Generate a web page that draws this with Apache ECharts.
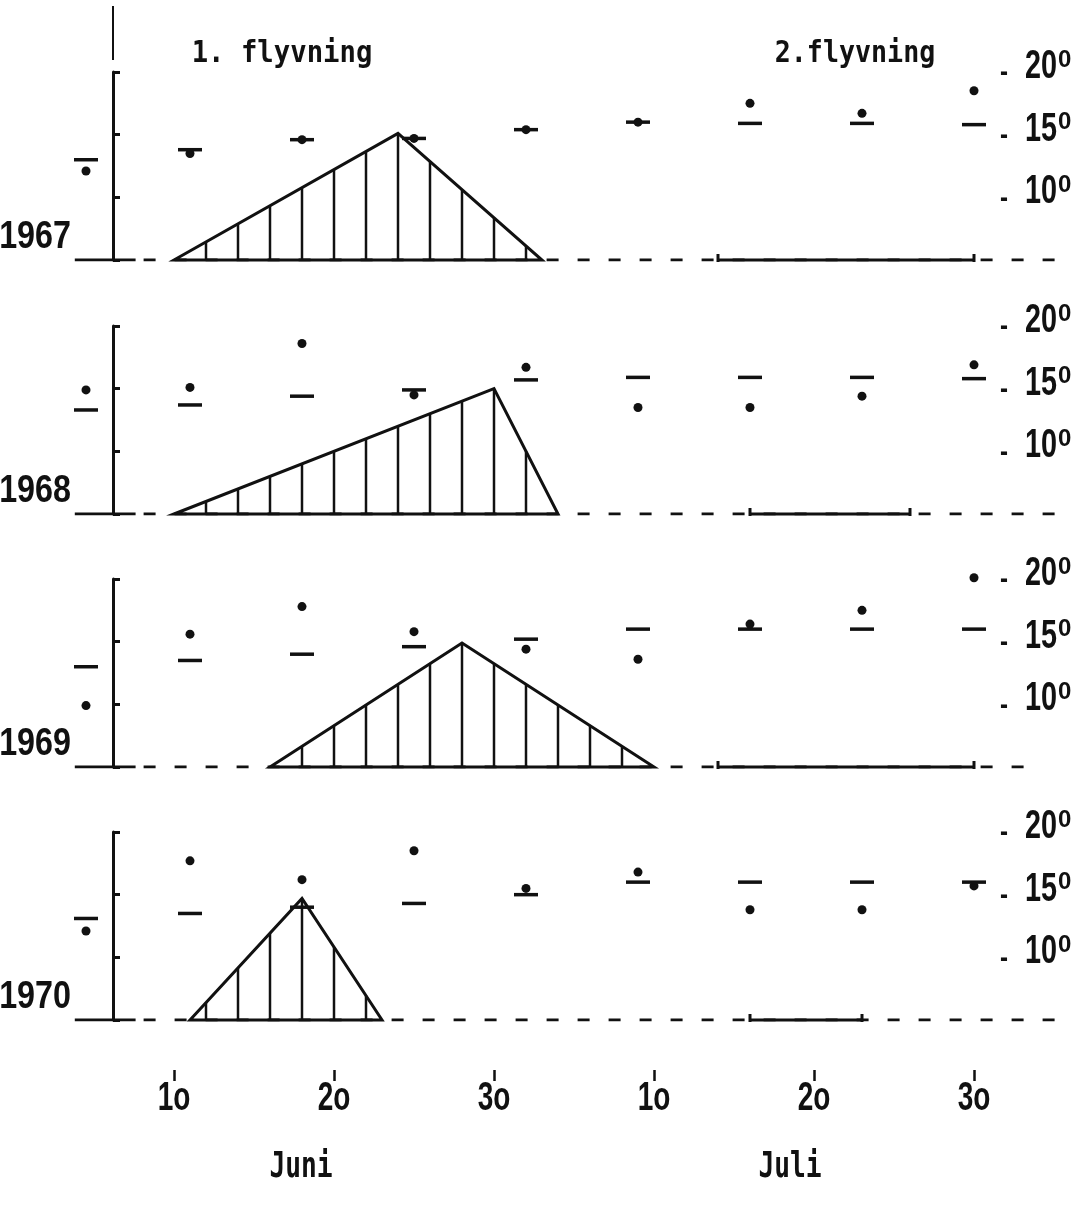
<!DOCTYPE html>
<html>
<head>
<meta charset="utf-8">
<script src="https://cdn.jsdelivr.net/npm/echarts@6/dist/echarts.min.js"></script>
<style>
  html, body { margin: 0; padding: 0; background: #fff; }
  #chart { width: 1088px; height: 1213px; }
</style>
</head>
<body>
<div id="chart"></div>
<script>
const MONO = "'DejaVu Sans Mono', 'Liberation Mono', monospace";
const SANS = "'Liberation Sans', Arial, sans-serif";
const INK = '#111';

const years = ['1967', '1968', '1969', '1970'];
const weekDays = [4.5, 11, 18, 25, 32, 39, 46, 53, 60];

// normal temperature (short dashes)
const normal1967 = [13.0, 13.8, 14.6, 14.7, 15.4, 16.0, 15.9, 15.9, 15.8];
const normal1968 = [13.3, 13.7, 14.4, 14.9, 15.7, 15.9, 15.9, 15.9, 15.8];
const normal1969 = [13.0, 13.5, 14.0, 14.6, 15.2, 16.0, 16.0, 16.0, 16.0];
const normal1970 = [13.1, 13.5, 14.0, 14.3, 15.0, 16.0, 16.0, 16.0, 16.0];

// temperature of the year (dots)
const temp1967 = [12.1, 13.5, 14.6, 14.7, 15.4, 16.0, 17.5, 16.7, 18.5];
const temp1968 = [14.9, 15.1, 18.6, 14.5, 16.7, 13.5, 13.5, 14.4, 16.9];
const temp1969 = [9.9, 15.6, 17.8, 15.8, 14.4, 13.6, 16.4, 17.5, 20.1];
const temp1970 = [12.1, 17.7, 16.2, 18.5, 15.5, 16.8, 13.8, 13.8, 15.7];

// 1. flyvning : first day, top day, last day, height of top
const flight1Start = [10, 10, 16, 11];
const flight1Peak = [24, 30, 28, 18];
const flight1End = [33, 34, 40, 23];
const flight1Top = [15.1, 15.0, 14.9, 14.7];

// 2. flyvning : period
const flight2Start = [44, 46, 44, 46];
const flight2End = [60, 56, 60, 53];

const dayTicks = [10, 20, 30, 40, 50, 60];
const dayLabels = ['1o', '2o', '3o', '1o', '2o', '3o'];
const tempTicks = [10, 15, 20];

const normals = [normal1967, normal1968, normal1969, normal1970];
const temps = [temp1967, temp1968, temp1969, temp1970];

// layout
const GRID_TOPS = [72, 326, 579, 832];
const GRID_H = 188;
const X_MIN = 2, X_MAX = 66;
const BASE = 5;
const dashEnds = [65.3, 65.4, 64.2, 65.4];

let chart = echarts.init(document.getElementById('chart'), null, {renderer: 'canvas'});

function renderFlight(params, api) {
  const s = api.value(0), p = api.value(1), e = api.value(2), h = api.value(3);
  const a = api.coord([s, BASE]), b = api.coord([p, h]), c = api.coord([e, BASE]);
  const children = [{
    type: 'polygon',
    shape: {points: [a, b, c]},
    style: {fill: 'rgba(0,0,0,0)', stroke: INK, lineWidth: 3, lineJoin: 'miter'}
  }];
  // vertical hatching every second day
  for (let d = Math.floor(s / 2) * 2 + 2; d < e; d += 2) {
    const v = d <= p ? BASE + (h - BASE) * (d - s) / (p - s) : BASE + (h - BASE) * (e - d) / (e - p);
    const lo = api.coord([d, BASE]), hi = api.coord([d, v]);
    children.push({
      type: 'line',
      shape: {x1: lo[0], y1: lo[1], x2: hi[0], y2: hi[1]},
      style: {stroke: INK, lineWidth: 2.5}
    });
  }
  return {type: 'group', children};
}

function renderPeriod(params, api) {
  const a = api.coord([api.value(0), BASE]), b = api.coord([api.value(1), BASE]);
  return {
    type: 'group',
    children: [
      {type: 'line', shape: {x1: a[0], y1: a[1], x2: b[0], y2: b[1]}, style: {stroke: INK, lineWidth: 3}},
      {type: 'line', shape: {x1: a[0], y1: a[1] - 6, x2: a[0], y2: a[1] + 2}, style: {stroke: INK, lineWidth: 3}},
      {type: 'line', shape: {x1: b[0], y1: b[1] - 6, x2: b[0], y2: b[1] + 2}, style: {stroke: INK, lineWidth: 3}}
    ]
  };
}

function label(text, x, y, font, sx, align) {
  return {
    type: 'text', x: x, y: y, scaleX: sx,
    style: {
      text: text, fill: INK, font: font,
      textAlign: align, align: align,
      textVerticalAlign: 'middle', verticalAlign: 'middle'
    }
  };
}

const grids = [], xAxes = [], yAxes = [], series = [];

years.forEach((year, i) => {
  grids.push({left: 46, right: 18, top: GRID_TOPS[i], height: GRID_H, outerBoundsMode: 'none', containLabel: false});
  const last = i === years.length - 1;
  xAxes.push({
    type: 'value', gridIndex: i, min: X_MIN, max: X_MAX,
    position: 'bottom', offset: last ? 50 : 0,
    axisLine: {show: false},
    splitLine: {show: false},
    axisTick: {show: last, customValues: dayTicks, length: 11, lineStyle: {color: INK, width: 2.5}},
    axisLabel: {show: false}
  });
  yAxes.push({
    type: 'value', gridIndex: i, min: BASE, max: 20, interval: 5,
    position: 'left', offset: -67,
    axisLine: {show: true, lineStyle: {color: INK, width: 3}},
    axisTick: {show: true, inside: true, length: 7, lineStyle: {color: INK, width: 3}},
    axisLabel: {show: false},
    splitLine: {show: false}
  });

  // baseline: solid stub by the axis, dashed onwards
  series.push({
    type: 'line', xAxisIndex: i, yAxisIndex: i, silent: true, symbol: 'none',
    data: [[3.8, BASE], [7.6, BASE]],
    lineStyle: {color: INK, width: 3}, z: 2
  });
  series.push({
    type: 'line', xAxisIndex: i, yAxisIndex: i, silent: true, symbol: 'none',
    data: [[7.6, BASE], [dashEnds[i], BASE]],
    lineStyle: {color: INK, width: 3, type: [12, 19], dashOffset: -8}, z: 2
  });
  // 1. flyvning
  series.push({
    type: 'custom', xAxisIndex: i, yAxisIndex: i, clip: false, silent: true,
    renderItem: renderFlight,
    encode: {x: [0, 2], y: 3},
    data: [[flight1Start[i], flight1Peak[i], flight1End[i], flight1Top[i]]],
    z: 3
  });
  // 2. flyvning
  series.push({
    type: 'custom', xAxisIndex: i, yAxisIndex: i, clip: false, silent: true,
    renderItem: renderPeriod,
    encode: {x: [0, 1]},
    data: [[flight2Start[i], flight2End[i]]],
    z: 3
  });
  // normal temperature
  series.push({
    type: 'scatter', xAxisIndex: i, yAxisIndex: i, clip: false, silent: true,
    symbol: 'rect', symbolSize: [24, 3.5],
    itemStyle: {color: INK, opacity: 1},
    data: weekDays.map((d, k) => [d, normals[i][k]]),
    z: 4
  });
  // temperature of the year
  series.push({
    type: 'scatter', xAxisIndex: i, yAxisIndex: i, clip: false, silent: true,
    symbol: 'circle', symbolSize: 9,
    itemStyle: {color: INK, opacity: 1},
    data: weekDays.map((d, k) => [d, temps[i][k]]),
    z: 5
  });
});

chart.setOption({
  animation: false,
  backgroundColor: '#fff',
  grid: grids,
  xAxis: xAxes,
  yAxis: yAxes,
  series: series
});

// texts, placed through the axes' own scales
const graphics = [
  {type: 'line', shape: {x1: 113, y1: 6, x2: 113, y2: 60}, style: {stroke: INK, lineWidth: 2}},
  label('1. flyvning', 282, 54, `bold 31px ${MONO}`, 0.88, 'center'),
  label('2.flyvning', 855, 54, `bold 31px ${MONO}`, 0.86, 'center'),
  label('Juni', 301, 1168, `bold 35px ${MONO}`, 0.75, 'center'),
  label('Juli', 790, 1168, `bold 35px ${MONO}`, 0.75, 'center')
];
years.forEach((year, i) => {
  const base = chart.convertToPixel({yAxisIndex: i}, BASE);
  graphics.push(label(year, 71, base - 22, `bold 38px ${SANS}`, 0.85, 'right'));
  tempTicks.forEach(t => {
    const py = chart.convertToPixel({yAxisIndex: i}, t);
    graphics.push(label('-', 1004, py + 1, `bold 30px ${SANS}`, 0.8, 'center'));
    graphics.push(label(String(t), 1025, py - 5, `bold 40px ${SANS}`, 0.72, 'left'));
    graphics.push(label('0', 1058, py - 12, `bold 24px ${SANS}`, 1, 'left'));
  });
});
const tickTop = chart.convertToPixel({yAxisIndex: 3}, BASE) + 50;
dayTicks.forEach((d, k) => {
  const px = chart.convertToPixel({xAxisIndex: 3}, d);
  graphics.push(label(dayLabels[k], px, tickTop + 29, `bold 40px ${SANS}`, 0.7, 'center'));
});

chart.setOption({graphic: graphics});
</script>
</body>
</html>
